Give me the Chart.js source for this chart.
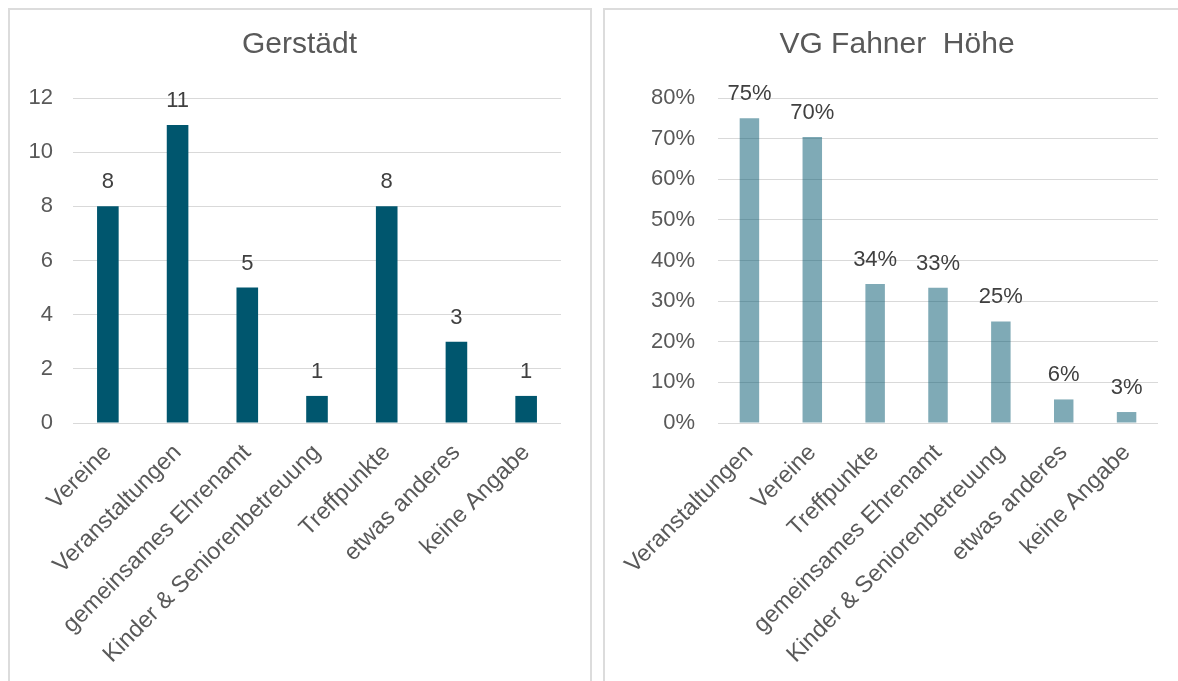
<!DOCTYPE html>
<html lang="de">
<head>
<meta charset="utf-8">
<title>Gerstädt / VG Fahner Höhe</title>
<script src="https://cdn.jsdelivr.net/npm/chart.js"></script>
<style>
  html, body { margin: 0; padding: 0; background: #ffffff; overflow: hidden; }
  .box { position: absolute; top: 8px; height: 700px; border: 2px solid #dcdcdc; box-sizing: border-box; }
  #box-left { left: 8px; width: 584px; }
  #box-right { left: 603px; width: 600px; }
  .chart-wrap { position: absolute; top: 10px; height: 671px; }
  #wrap-left { left: 10px; width: 579px; }
  #wrap-right { left: 606px; width: 582px; }
</style>
</head>
<body>
<div class="box" id="box-left"></div>
<div class="box" id="box-right"></div>
<div class="chart-wrap" id="wrap-left"><canvas id="chart-gerstaedt"></canvas></div>
<div class="chart-wrap" id="wrap-right"><canvas id="chart-fahner"></canvas></div>

<script>
// Gerstädt - number of answers per category
const gerstaedtLabels = ['Vereine', 'Veranstaltungen', 'gemeinsames Ehrenamt', 'Kinder & Seniorenbetreuung', 'Treffpunkte', 'etwas anderes', 'keine Angabe'];
const gerstaedtValues = [8, 11, 5, 1, 8, 3, 1];

// VG Fahner Höhe - share of answers in percent
const fahnerLabels = ['Veranstaltungen', 'Vereine', 'Treffpunkte', 'gemeinsames Ehrenamt', 'Kinder & Seniorenbetreuung', 'etwas anderes', 'keine Angabe'];
const fahnerValues = [75, 70.4, 34.2, 33.3, 25, 5.8, 2.7];

const fontFamily = '"Liberation Sans", Arial, sans-serif';

// small plugin to write the value above every bar
const barLabels = {
  id: 'barLabels',
  afterDatasetsDraw(chart, args, opts) {
    const ctx = chart.ctx;
    const meta = chart.getDatasetMeta(0);
    const data = chart.data.datasets[0].data;
    ctx.save();
    ctx.font = '22px ' + fontFamily;
    ctx.fillStyle = '#404040';
    ctx.textAlign = 'center';
    ctx.textBaseline = 'alphabetic';
    meta.data.forEach((bar, i) => {
      ctx.fillText(opts.format(data[i]), bar.x, bar.y - 18);
    });
    ctx.restore();
  }
};

// Function to draw one of the two bar charts
function displayChart(canvasId, title, labels, values, settings) {
  const canvasContext = document.getElementById(canvasId).getContext('2d');

  return new Chart(canvasContext, {
    type: 'bar',
    plugins: [barLabels],
    data: {
      labels: labels,
      datasets: [
        {
          data: values,
          backgroundColor: settings.color,
          borderWidth: 0,
          categoryPercentage: 1,
          barPercentage: 0.31,
        },
      ],
    },
    options: {
      responsive: true,
      maintainAspectRatio: false,
      animation: false,
      layout: { padding: 0 },
      plugins: {
        legend: { display: false },
        tooltip: { enabled: false },
        title: {
          display: true,
          text: title,
          color: '#595959',
          font: { family: fontFamily, size: 30, weight: 'normal' },
          padding: { top: 17, bottom: 35 },
        },
        barLabels: { format: settings.format },
      },
      scales: {
        x: {
          grid: { display: false },
          border: { display: false },
          ticks: {
            color: '#595959',
            font: { family: fontFamily, size: 23.5 },
            autoSkip: false,
            minRotation: 45,
            maxRotation: 45,
            padding: 8,
          },
          afterFit(scale) {
            scale.height = 258;
          },
        },
        y: {
          min: 0,
          max: settings.max,
          border: { display: false },
          grid: { color: '#d9d9d9', lineWidth: 1, drawTicks: false },
          ticks: {
            stepSize: settings.step,
            color: '#595959',
            font: { family: fontFamily, size: 22 },
            padding: settings.tickPad,
            callback: settings.tickFormat,
          },
          afterFit(scale) {
            scale.width = settings.axisWidth;
          },
        },
        // empty axis on the right, only keeps the plot area off the right edge
        // while the title stays centred in the box
        yRight: {
          position: 'right',
          min: 0,
          max: settings.max,
          grid: { display: false },
          border: { display: false },
          ticks: { display: false },
          afterFit(scale) {
            scale.width = settings.rightGap;
          },
        },
      },
    },
  });
}

displayChart('chart-gerstaedt', 'Gerstädt', gerstaedtLabels, gerstaedtValues, {
  color: '#00566E',
  max: 12,
  step: 2,
  axisWidth: 63,
  rightGap: 28,
  tickPad: 20,
  tickFormat: (v) => v,
  format: (v) => String(v),
});

displayChart('chart-fahner', 'VG Fahner  Höhe', fahnerLabels, fahnerValues, {
  color: 'rgba(0, 86, 110, 0.5)',
  max: 80,
  step: 10,
  axisWidth: 112,
  rightGap: 30,
  tickPad: 23,
  tickFormat: (v) => v + '%',
  format: (v) => Math.round(v) + '%',
});
</script>
</body>
</html>
